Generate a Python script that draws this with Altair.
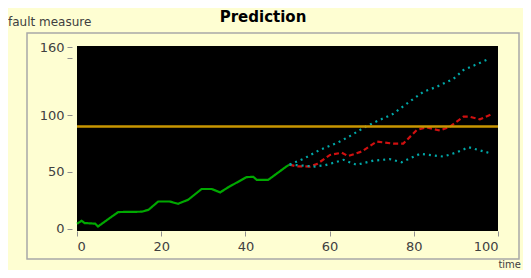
import altair as alt
import pandas as pd

# ---- data ----
hist_x = [0, 1.1, 1.8, 4.3, 5, 6.5, 8, 9.8, 15.4, 17, 19.3, 22, 24, 26.4, 29.6, 32, 34, 36, 40.3, 41.9, 42.7, 45.4, 49.8, 50.5]
hist_y = [4.4, 7, 5, 4.5, 2, 6, 10, 14.7, 15, 16.7, 24, 24, 22, 25.5, 35, 35, 32, 36.7, 45.5, 45.7, 43, 43, 55, 56.5]

pred_x = [50.5, 52, 55.3, 57, 60.1, 62.9, 64.4, 67.6, 71.2, 75.1, 77.5, 80.7, 83, 86.2, 88.6, 91.8, 93.3, 95.7, 98.5]
pred_y = [56.5, 55, 54.8, 57, 65, 67, 64, 68, 76.8, 75, 75, 87, 89.4, 86.5, 90, 98.7, 98.7, 96.4, 101]

upper_x = [50.5, 54, 57.7, 62, 65, 68.8, 72, 75, 79, 82.3, 85.4, 89.4, 91.8, 95, 98.1]
upper_y = [56.5, 62, 69.5, 76, 82, 90.5, 96, 101, 112, 120.7, 125, 132, 139.8, 145, 150]

lower_x = [50.5, 56.5, 59, 63.3, 66.4, 70.4, 74.3, 77.1, 81.5, 87, 90, 93, 97.7]
lower_y = [56.5, 54.8, 56, 60.7, 56.3, 60, 61.3, 58.6, 66, 63.6, 67, 71.8, 67]

threshold = [90]
x_ticks = [0, 20, 40, 60, 80, 100]
y_ticks = [0, 50, 100, 150, 160]

series_names = ["history", "prediction", "upper", "lower"]
series_colors = ["#00A800", "#D01010", "#00A8A8", "#00A8A8"]
series_dash = [[1, 0], [5, 3], [2, 4], [2, 4]]

rows = []
for name, xs, ys in [("history", hist_x, hist_y), ("prediction", pred_x, pred_y),
                     ("upper", upper_x, upper_y), ("lower", lower_x, lower_y)]:
    for i, (a, b) in enumerate(zip(xs, ys)):
        rows.append({"series": name, "t": a, "v": b, "order": i})
df = pd.DataFrame(rows)

W, H = 421, 185
BG = "#FEFED2"

x_scale = alt.Scale(domain=[0, 100], nice=False)
y_scale = alt.Scale(domain=[-2, 161], nice=False)

lines = alt.Chart(df).mark_line(strokeWidth=2.2).encode(
    x=alt.X("t:Q", scale=x_scale,
            axis=alt.Axis(values=x_ticks, title=None, grid=False, domain=False,
                          tickSize=5, tickColor="#909090", labelFontSize=13,
                          labelColor="#404040", labelFont="DejaVu Sans", labelPadding=4)),
    y=alt.Y("v:Q", scale=y_scale,
            axis=alt.Axis(values=y_ticks, title=None, grid=False, domain=False,
                          tickSize=5, offset=5, tickColor="#909090", labelFontSize=13,
                          labelColor="#404040", labelFont="DejaVu Sans", labelPadding=3,
                          labelExpr="datum.value == 150 ? '' : datum.label")),
    color=alt.Color("series:N", scale=alt.Scale(domain=series_names, range=series_colors), legend=None),
    strokeDash=alt.StrokeDash("series:N", scale=alt.Scale(domain=series_names, range=series_dash), legend=None),
    order="order:Q",
)

rule = alt.Chart(pd.DataFrame({"v": threshold})).mark_rule(color="#C89600", strokeWidth=2.5).encode(
    y=alt.Y("v:Q", scale=y_scale)
)

frame = alt.Chart(pd.DataFrame({"a": [0]})).mark_rect(fill=None, stroke="#A8A8A8", strokeWidth=1.5).encode(
    x=alt.value(-50), x2=alt.value(442), y=alt.value(-13), y2=alt.value(213)
)

txt = pd.DataFrame({"a": [0]})
title = alt.Chart(txt).mark_text(text="Prediction", font="DejaVu Sans", fontWeight="bold",
                                 fontSize=15, color="#000000", align="center", baseline="middle").encode(
    x=alt.value(186), y=alt.value(-29))
ytitle = alt.Chart(txt).mark_text(text="fault measure", font="DejaVu Sans", fontSize=12,
                                  color="#404040", align="left", baseline="middle").encode(
    x=alt.value(-69), y=alt.value(-24))
xtitle = alt.Chart(txt).mark_text(text="time", font="DejaVu Sans", fontSize=10,
                                  color="#404040", align="right", baseline="alphabetic").encode(
    x=alt.value(444), y=alt.value(222))

chart = alt.layer(frame, lines, rule, title, ytitle, xtitle).properties(
    width=W, height=H, background=BG,
    autosize=alt.AutoSizeParams(type="none"),
    padding={"left": 69, "top": 38, "right": 25, "bottom": 39},
).configure_view(fill="#000000", strokeWidth=0)

chart.save("out.html", embed_options={"renderer": "svg", "actions": False})
